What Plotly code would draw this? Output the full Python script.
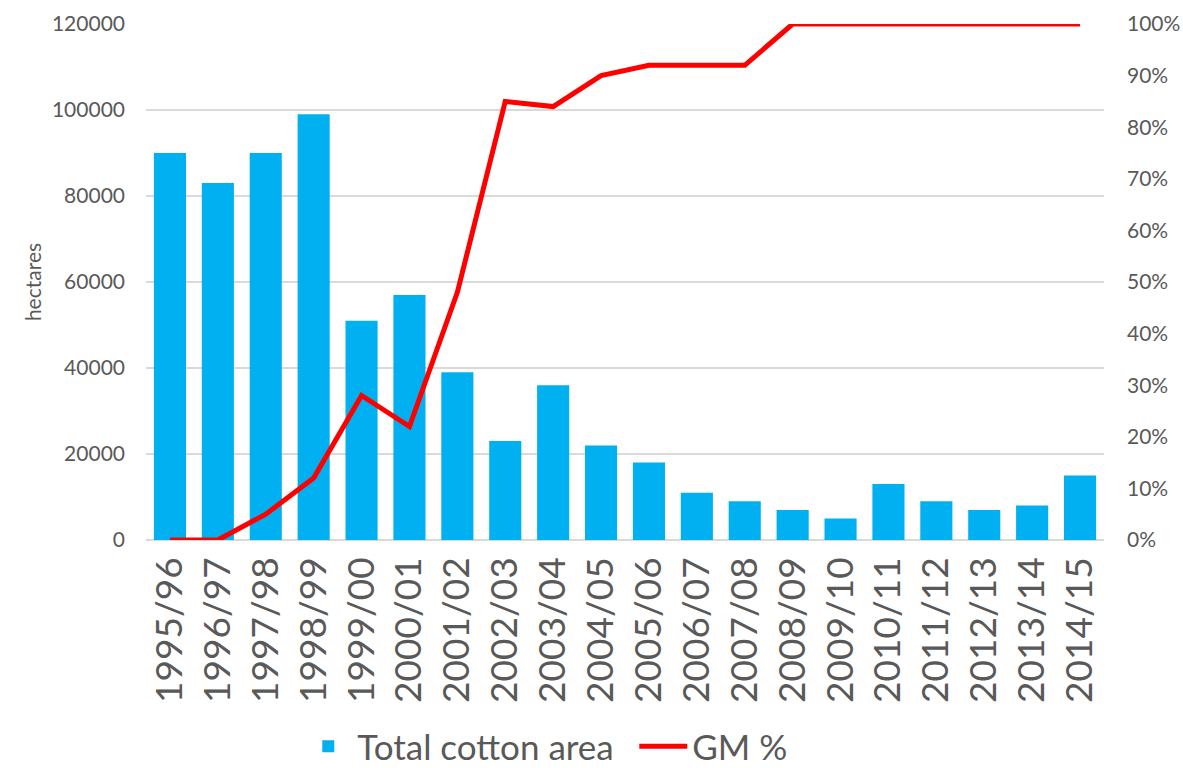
import plotly.graph_objects as go

seasons = ["1995/96", "1996/97", "1997/98", "1998/99", "1999/00", "2000/01",
           "2001/02", "2002/03", "2003/04", "2004/05", "2005/06", "2006/07",
           "2007/08", "2008/09", "2009/10", "2010/11", "2011/12", "2012/13",
           "2013/14", "2014/15"]
cotton_area_ha = [90000, 83000, 90000, 99000, 51000, 57000, 39000, 23000, 36000,
                  22000, 18000, 11000, 9000, 7000, 5000, 13000, 9000, 7000,
                  8000, 15000]
gm_share_pct = [0, 0, 5, 12, 28, 22, 48, 85, 84, 90, 92, 92, 92, 100, 100,
                100, 100, 100, 100, 100]

FONT = "Lato"
GREY = "#595959"

fig = go.Figure()
fig.add_trace(go.Bar(
    x=seasons, y=cotton_area_ha, name="Total cotton area",
    marker=dict(color="#00B0F0", line=dict(width=0)),
))
fig.add_trace(go.Scatter(
    x=seasons, y=gm_share_pct, name="GM %", yaxis="y2", mode="lines",
    line=dict(color="#FF0000", width=5),
))

fig.update_layout(
    width=1183, height=768,
    margin=dict(l=146, r=79, t=24, b=228, autoexpand=False),
    plot_bgcolor="white", paper_bgcolor="white",
    bargap=0.33,
    font=dict(family=FONT, color=GREY),
    xaxis=dict(
        tickangle=-90, tickfont=dict(size=37, color=GREY),
        showgrid=False, showline=False, ticks="", ticklabelstandoff=9,
    ),
    yaxis=dict(
        range=[0, 120000], dtick=20000, tickformat="d",
        tickfont=dict(size=21, color=GREY),
        showgrid=True, gridcolor="#D9D9D9", gridwidth=1.5,
        zeroline=True, zerolinecolor="#D9D9D9", zerolinewidth=1.5,
        title=dict(text="hectares", font=dict(size=21, color=GREY), standoff=4),
        ticks="", ticklabelstandoff=20,
    ),
    yaxis2=dict(
        range=[0, 100], dtick=10, ticksuffix="%", overlaying="y", side="right",
        showgrid=False, zeroline=False, tickfont=dict(size=21, color=GREY),
        ticks="", ticklabelstandoff=22,
    ),
    legend=dict(
        orientation="h", x=0.16, xanchor="left",
        yref="container", y=0.028, yanchor="middle",
        font=dict(size=35, color=GREY), itemwidth=48, entrywidth=272,
    ),
)

fig.write_html("out.html")
